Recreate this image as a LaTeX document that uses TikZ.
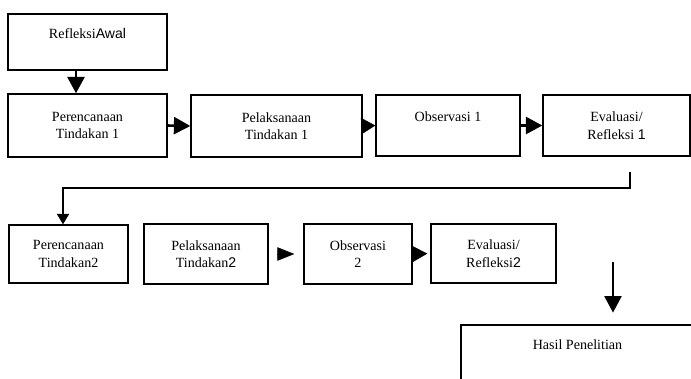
\documentclass[tikz,border=0pt]{standalone}
\usepackage{fontspec}
\setmainfont{Liberation Serif}
\newfontfamily\arialfont{Liberation Sans}
\usetikzlibrary{arrows.meta,calc}
\tikzset{
  stagebox/.style={draw, line width=1.2pt, align=center, inner sep=2pt,
    font=\fontsize{12}{15}\selectfont},
  flow/.style={line width=2.2pt, -{Triangle[length=14pt,width=14.5pt]}},
  headonly/.style={line width=0.4pt, -{Triangle[length=12pt,width=14pt]}},
  backline/.style={line width=1.3pt, -{Triangle[length=9pt,width=10.5pt]}}
}
\begin{document}
\begin{tikzpicture}[x=0.03cm, y=-0.03cm]
\useasboundingbox (0,0) rectangle (691,378);
\clip (0,0) rectangle (691,378);
% first cycle
\node[stagebox, minimum width=4.77cm, minimum height=1.68cm] (awal) at (87.5,42) {Refleksi{\arialfont Awal}\\ \mbox{}};
\node[stagebox, minimum width=4.77cm, minimum height=1.89cm] (per1) at (87.5,125.5) {Perencanaan\\Tindakan 1};
\node[stagebox, minimum width=5.13cm, minimum height=1.86cm] (pel1) at (276.5,126) {Pelaksanaan\\Tindakan 1};
\node[stagebox, minimum width=4.32cm, minimum height=1.83cm] (obs1) at (448,125.5) {Observasi 1\\ \mbox{}};
\node[stagebox, minimum width=4.41cm, minimum height=1.83cm] (eva1) at (616.5,125.5) {Evaluasi/\\Refleksi {\arialfont 1}};
% second cycle
\node[stagebox, minimum width=3.57cm, minimum height=1.74cm] (per2) at (68.5,254) {Perencanaan\\Tindakan2};
\node[stagebox, minimum width=3.72cm, minimum height=1.80cm] (pel2) at (206,254) {Pelaksanaan\\Tindakan{\arialfont 2}};
\node[stagebox, minimum width=3.24cm, minimum height=1.80cm] (obs2) at (358,254) {Observasi\\2};
\node[stagebox, minimum width=3.75cm, minimum height=1.77cm] (eva2) at (493.5,253.5) {Evaluasi/\\Refleksi{\arialfont 2}};
\node[stagebox, minimum width=6.99cm, minimum height=2.25cm] (hasil) at (577.5,362.5) {Hasil Penelitian\\ \mbox{}\\ \mbox{}};
\coordinate (fb) at (630,172);
\coordinate (h1) at (613,262);
% arrows
\draw[flow] ([xshift=-0.345cm]awal.south) -- ([xshift=-0.345cm]per1.north);
\draw[flow] (per1.east) -- (pel1.west);
\draw[headonly] (pel1.east) -- (obs1.west);
\draw[flow] (obs1.east) -- (eva1.west);
\draw[backline] (fb) -- ++(0,16) -| ([xshift=-0.165cm]per2.north);
\draw[headonly, shorten <=8.5pt, shorten >=7.7pt, -{Triangle[length=14.5pt,width=11.5pt]}] (pel2.east) -- (obs2.west);
\draw[headonly, shorten >=2.5pt, -{Triangle[length=13.5pt,width=14.5pt]}] (obs2.east) -- (eva2.west);
\draw[flow, line width=1.8pt, shorten >=10pt] (h1) -- (h1 |- hasil.north);
\end{tikzpicture}
\end{document}
